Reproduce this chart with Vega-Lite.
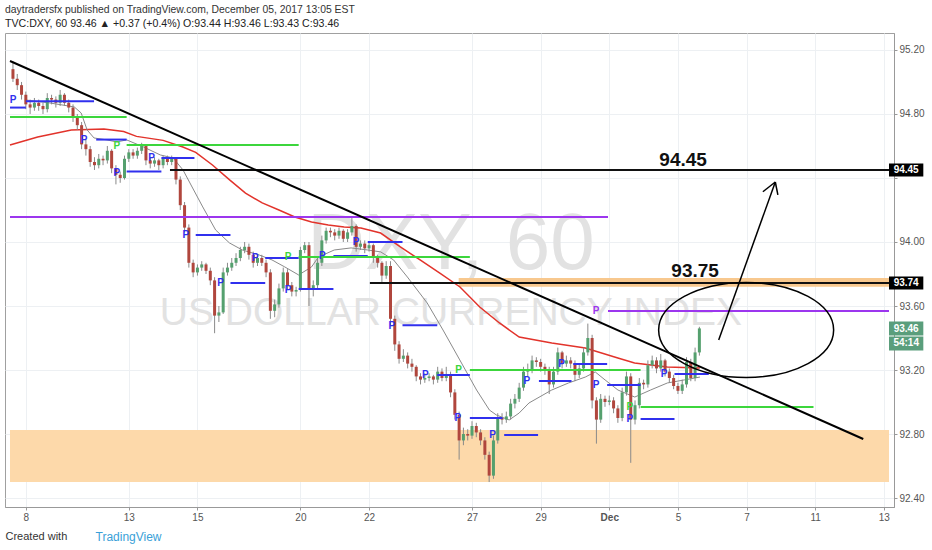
{
"$schema":"https://vega.github.io/schema/vega-lite/v6.json",
"width":889,"height":474,
"autosize":{"type":"none"},
"padding":{"left":5,"top":33,"right":38,"bottom":43},
"background":"#ffffff",
"config":{"view":{"stroke":"#a0a0a0","strokeWidth":1},"font":"Liberation Sans"},
"title":{"text":"daytradersfx published on TradingView.com, December 05, 2017 13:05 EST","subtitle":"TVC:DXY, 60 93.46 ▲ +0.37 (+0.4%) O:93.44 H:93.46 L:93.43 C:93.46","anchor":"start","frame":"group","offset":3,"font":"Liberation Sans","fontSize":10.4,"fontWeight":"normal","color":"#333333","subtitleFont":"Liberation Sans","subtitleFontSize":10.6,"subtitleFontWeight":"normal","subtitleColor":"#222222","subtitlePadding":4},
"datasets":{
"candles":[
{"i":-3,"o":95.08,"h":95.13,"l":95.00,"c":95.02},
{"i":-2,"o":95.02,"h":95.05,"l":94.95,"c":94.98},
{"i":-1,"o":94.98,"h":95.00,"l":94.89,"c":94.92},
{"i":0,"o":94.92,"h":94.94,"l":94.83,"c":94.86},
{"i":1,"o":94.86,"h":94.89,"l":94.80,"c":94.84},
{"i":2,"o":94.84,"h":94.90,"l":94.82,"c":94.87},
{"i":3,"o":94.87,"h":94.89,"l":94.82,"c":94.85},
{"i":4,"o":94.85,"h":94.87,"l":94.80,"c":94.83},
{"i":5,"o":94.83,"h":94.93,"l":94.81,"c":94.90},
{"i":6,"o":94.90,"h":94.92,"l":94.86,"c":94.89},
{"i":7,"o":94.89,"h":94.91,"l":94.84,"c":94.87},
{"i":8,"o":94.87,"h":94.95,"l":94.85,"c":94.92},
{"i":9,"o":94.92,"h":94.93,"l":94.85,"c":94.87},
{"i":10,"o":94.87,"h":94.89,"l":94.81,"c":94.84},
{"i":11,"o":94.84,"h":94.86,"l":94.75,"c":94.78},
{"i":12,"o":94.78,"h":94.80,"l":94.70,"c":94.73},
{"i":13,"o":94.73,"h":94.75,"l":94.58,"c":94.61},
{"i":14,"o":94.61,"h":94.64,"l":94.54,"c":94.58},
{"i":15,"o":94.58,"h":94.60,"l":94.47,"c":94.50},
{"i":16,"o":94.50,"h":94.53,"l":94.45,"c":94.48},
{"i":17,"o":94.48,"h":94.55,"l":94.46,"c":94.52},
{"i":18,"o":94.52,"h":94.54,"l":94.48,"c":94.51},
{"i":19,"o":94.51,"h":94.60,"l":94.49,"c":94.57},
{"i":20,"o":94.57,"h":94.58,"l":94.43,"c":94.46},
{"i":21,"o":94.46,"h":94.48,"l":94.36,"c":94.42},
{"i":22,"o":94.42,"h":94.44,"l":94.37,"c":94.40},
{"i":23,"o":94.40,"h":94.54,"l":94.39,"c":94.52},
{"i":24,"o":94.52,"h":94.58,"l":94.50,"c":94.56},
{"i":25,"o":94.56,"h":94.58,"l":94.52,"c":94.54},
{"i":26,"o":94.54,"h":94.59,"l":94.52,"c":94.57},
{"i":27,"o":94.57,"h":94.62,"l":94.55,"c":94.60},
{"i":28,"o":94.60,"h":94.61,"l":94.48,"c":94.51},
{"i":29,"o":94.51,"h":94.53,"l":94.46,"c":94.49},
{"i":30,"o":94.49,"h":94.53,"l":94.47,"c":94.51},
{"i":31,"o":94.51,"h":94.52,"l":94.45,"c":94.48},
{"i":32,"o":94.48,"h":94.54,"l":94.46,"c":94.52},
{"i":33,"o":94.52,"h":94.54,"l":94.48,"c":94.50},
{"i":34,"o":94.50,"h":94.54,"l":94.48,"c":94.52},
{"i":35,"o":94.52,"h":94.53,"l":94.36,"c":94.39},
{"i":36,"o":94.39,"h":94.41,"l":94.20,"c":94.23},
{"i":37,"o":94.23,"h":94.25,"l":94.06,"c":94.09},
{"i":38,"o":94.09,"h":94.11,"l":93.84,"c":93.87},
{"i":39,"o":93.87,"h":93.89,"l":93.78,"c":93.81},
{"i":40,"o":93.81,"h":93.86,"l":93.79,"c":93.84},
{"i":41,"o":93.84,"h":93.88,"l":93.82,"c":93.86},
{"i":42,"o":93.86,"h":93.87,"l":93.80,"c":93.82},
{"i":43,"o":93.82,"h":93.84,"l":93.73,"c":93.76},
{"i":44,"o":93.76,"h":93.78,"l":93.43,"c":93.54},
{"i":45,"o":93.54,"h":93.60,"l":93.50,"c":93.56},
{"i":46,"o":93.56,"h":93.84,"l":93.55,"c":93.81},
{"i":47,"o":93.81,"h":93.87,"l":93.79,"c":93.84},
{"i":48,"o":93.84,"h":93.90,"l":93.82,"c":93.87},
{"i":49,"o":93.87,"h":93.93,"l":93.85,"c":93.90},
{"i":50,"o":93.90,"h":93.97,"l":93.88,"c":93.95},
{"i":51,"o":93.95,"h":94.00,"l":93.93,"c":93.97},
{"i":52,"o":93.97,"h":93.99,"l":93.89,"c":93.92},
{"i":53,"o":93.92,"h":93.94,"l":93.84,"c":93.87},
{"i":54,"o":93.87,"h":93.92,"l":93.85,"c":93.90},
{"i":55,"o":93.90,"h":93.92,"l":93.85,"c":93.87},
{"i":56,"o":93.87,"h":93.89,"l":93.78,"c":93.81},
{"i":57,"o":93.81,"h":93.83,"l":93.52,"c":93.57},
{"i":58,"o":93.57,"h":93.64,"l":93.53,"c":93.61},
{"i":59,"o":93.61,"h":93.74,"l":93.59,"c":93.71},
{"i":60,"o":93.71,"h":93.84,"l":93.69,"c":93.81},
{"i":61,"o":93.81,"h":93.83,"l":93.70,"c":93.73},
{"i":62,"o":93.73,"h":93.75,"l":93.66,"c":93.69},
{"i":63,"o":93.69,"h":93.72,"l":93.66,"c":93.70},
{"i":64,"o":93.70,"h":93.97,"l":93.69,"c":93.95},
{"i":65,"o":93.95,"h":94.00,"l":93.93,"c":93.98},
{"i":66,"o":93.98,"h":94.00,"l":93.60,"c":93.70},
{"i":67,"o":93.70,"h":93.76,"l":93.66,"c":93.73},
{"i":68,"o":93.73,"h":93.90,"l":93.71,"c":93.87},
{"i":69,"o":93.87,"h":94.04,"l":93.85,"c":94.01},
{"i":70,"o":94.01,"h":94.09,"l":93.99,"c":94.07},
{"i":71,"o":94.07,"h":94.09,"l":94.03,"c":94.06},
{"i":72,"o":94.06,"h":94.08,"l":94.01,"c":94.04},
{"i":73,"o":94.04,"h":94.09,"l":94.02,"c":94.07},
{"i":74,"o":94.07,"h":94.08,"l":94.00,"c":94.02},
{"i":75,"o":94.02,"h":94.08,"l":94.00,"c":94.06},
{"i":76,"o":94.06,"h":94.15,"l":94.04,"c":94.10},
{"i":77,"o":94.10,"h":94.11,"l":93.94,"c":93.97},
{"i":78,"o":93.97,"h":94.01,"l":93.95,"c":93.99},
{"i":79,"o":93.99,"h":94.01,"l":93.93,"c":93.96},
{"i":80,"o":93.96,"h":94.00,"l":93.94,"c":93.98},
{"i":81,"o":93.98,"h":93.99,"l":93.87,"c":93.90},
{"i":82,"o":93.90,"h":93.92,"l":93.84,"c":93.87},
{"i":83,"o":93.87,"h":93.88,"l":93.75,"c":93.79},
{"i":84,"o":93.79,"h":93.88,"l":93.77,"c":93.85},
{"i":85,"o":93.85,"h":93.88,"l":93.48,"c":93.52},
{"i":86,"o":93.52,"h":93.54,"l":93.32,"c":93.36},
{"i":87,"o":93.36,"h":93.38,"l":93.24,"c":93.27},
{"i":88,"o":93.27,"h":93.33,"l":93.25,"c":93.29},
{"i":89,"o":93.29,"h":93.31,"l":93.21,"c":93.24},
{"i":90,"o":93.24,"h":93.27,"l":93.19,"c":93.22},
{"i":91,"o":93.22,"h":93.23,"l":93.13,"c":93.16},
{"i":92,"o":93.16,"h":93.18,"l":93.11,"c":93.14},
{"i":93,"o":93.14,"h":93.18,"l":93.12,"c":93.15},
{"i":94,"o":93.15,"h":93.18,"l":93.13,"c":93.16},
{"i":95,"o":93.16,"h":93.17,"l":93.11,"c":93.14},
{"i":96,"o":93.14,"h":93.22,"l":93.12,"c":93.19},
{"i":97,"o":93.19,"h":93.21,"l":93.13,"c":93.15},
{"i":98,"o":93.15,"h":93.22,"l":93.13,"c":93.17},
{"i":99,"o":93.17,"h":93.19,"l":93.03,"c":93.06},
{"i":100,"o":93.06,"h":93.08,"l":92.89,"c":92.92},
{"i":101,"o":92.92,"h":92.94,"l":92.64,"c":92.76},
{"i":102,"o":92.76,"h":92.84,"l":92.73,"c":92.80},
{"i":103,"o":92.80,"h":92.83,"l":92.76,"c":92.79},
{"i":104,"o":92.79,"h":92.88,"l":92.77,"c":92.85},
{"i":105,"o":92.85,"h":92.87,"l":92.78,"c":92.81},
{"i":106,"o":92.81,"h":92.83,"l":92.73,"c":92.76},
{"i":107,"o":92.76,"h":92.78,"l":92.64,"c":92.67},
{"i":108,"o":92.67,"h":92.69,"l":92.50,"c":92.54},
{"i":109,"o":92.54,"h":92.79,"l":92.52,"c":92.76},
{"i":110,"o":92.76,"h":92.93,"l":92.74,"c":92.90},
{"i":111,"o":92.90,"h":92.93,"l":92.86,"c":92.89},
{"i":112,"o":92.89,"h":92.94,"l":92.87,"c":92.91},
{"i":113,"o":92.91,"h":93.02,"l":92.89,"c":92.99},
{"i":114,"o":92.99,"h":93.05,"l":92.96,"c":93.02},
{"i":115,"o":93.02,"h":93.12,"l":93.00,"c":93.09},
{"i":116,"o":93.09,"h":93.22,"l":93.07,"c":93.19},
{"i":117,"o":93.19,"h":93.24,"l":93.16,"c":93.20},
{"i":118,"o":93.20,"h":93.29,"l":93.18,"c":93.26},
{"i":119,"o":93.26,"h":93.28,"l":93.22,"c":93.25},
{"i":120,"o":93.25,"h":93.27,"l":93.19,"c":93.22},
{"i":121,"o":93.22,"h":93.24,"l":93.17,"c":93.20},
{"i":122,"o":93.20,"h":93.22,"l":93.05,"c":93.11},
{"i":123,"o":93.11,"h":93.22,"l":93.09,"c":93.19},
{"i":124,"o":93.19,"h":93.34,"l":93.17,"c":93.31},
{"i":125,"o":93.31,"h":93.32,"l":93.21,"c":93.24},
{"i":126,"o":93.24,"h":93.29,"l":93.22,"c":93.26},
{"i":127,"o":93.26,"h":93.28,"l":93.21,"c":93.24},
{"i":128,"o":93.24,"h":93.26,"l":93.13,"c":93.17},
{"i":129,"o":93.17,"h":93.24,"l":93.15,"c":93.21},
{"i":130,"o":93.21,"h":93.34,"l":93.19,"c":93.31},
{"i":131,"o":93.31,"h":93.49,"l":93.29,"c":93.40},
{"i":132,"o":93.40,"h":93.42,"l":92.96,"c":93.01},
{"i":133,"o":93.01,"h":93.03,"l":92.74,"c":92.89},
{"i":134,"o":92.89,"h":93.05,"l":92.87,"c":93.02},
{"i":135,"o":93.02,"h":93.04,"l":92.97,"c":93.00},
{"i":136,"o":93.00,"h":93.04,"l":92.98,"c":93.01},
{"i":137,"o":93.01,"h":93.03,"l":92.93,"c":92.96},
{"i":138,"o":92.96,"h":92.98,"l":92.87,"c":92.90},
{"i":139,"o":92.90,"h":93.09,"l":92.88,"c":93.06},
{"i":140,"o":93.06,"h":93.19,"l":93.04,"c":93.16},
{"i":141,"o":93.16,"h":93.18,"l":92.62,"c":92.89},
{"i":142,"o":92.89,"h":93.01,"l":92.86,"c":92.98},
{"i":143,"o":92.98,"h":93.15,"l":92.96,"c":93.12},
{"i":144,"o":93.12,"h":93.14,"l":93.08,"c":93.11},
{"i":145,"o":93.11,"h":93.26,"l":93.09,"c":93.23},
{"i":146,"o":93.23,"h":93.29,"l":93.21,"c":93.26},
{"i":147,"o":93.26,"h":93.28,"l":93.18,"c":93.21},
{"i":148,"o":93.21,"h":93.30,"l":93.19,"c":93.26},
{"i":149,"o":93.26,"h":93.27,"l":93.16,"c":93.19},
{"i":150,"o":93.19,"h":93.21,"l":93.12,"c":93.15},
{"i":151,"o":93.15,"h":93.17,"l":93.08,"c":93.10},
{"i":152,"o":93.10,"h":93.12,"l":93.05,"c":93.07},
{"i":153,"o":93.07,"h":93.14,"l":93.05,"c":93.11},
{"i":154,"o":93.11,"h":93.28,"l":93.09,"c":93.25},
{"i":155,"o":93.25,"h":93.27,"l":93.13,"c":93.15},
{"i":156,"o":93.15,"h":93.34,"l":93.13,"c":93.31},
{"i":157,"o":93.31,"h":93.47,"l":93.29,"c":93.46}
],
"ma100":[
{"i":-3.69,"p":94.606},{"i":2.76,"p":94.656},{"i":10.6,"p":94.70},{"i":18.2,"p":94.706},{"i":22.8,"p":94.69},{"i":25.8,"p":94.66},{"i":32.0,"p":94.635},{"i":36.6,"p":94.594},{"i":39.6,"p":94.56},{"i":43.5,"p":94.481},{"i":47.5,"p":94.388},{"i":51.2,"p":94.306},{"i":55.1,"p":94.244},{"i":59.0,"p":94.20},{"i":62.7,"p":94.156},{"i":66.6,"p":94.125},{"i":70.5,"p":94.106},{"i":74.2,"p":94.094},{"i":78.1,"p":94.088},{"i":82.7,"p":94.056},{"i":87.3,"p":93.969},{"i":91.9,"p":93.888},{"i":96.5,"p":93.806},{"i":101.2,"p":93.719},{"i":105.8,"p":93.594},{"i":110.4,"p":93.494},{"i":115.0,"p":93.406},{"i":122.6,"p":93.369},{"i":130.4,"p":93.338},{"i":138.0,"p":93.275},{"i":141.9,"p":93.244},{"i":149.5,"p":93.219},{"i":157.1,"p":93.213}
],
"ma20":[
{"i":-0.23,"p":94.888},{"i":5.53,"p":94.869},{"i":11.29,"p":94.844},{"i":12.9,"p":94.806},{"i":14.29,"p":94.70},{"i":15.9,"p":94.65},{"i":18.89,"p":94.638},{"i":21.2,"p":94.625},{"i":23.5,"p":94.638},{"i":27.42,"p":94.594},{"i":31.34,"p":94.544},{"i":34.33,"p":94.525},{"i":36.64,"p":94.45},{"i":38.25,"p":94.369},{"i":41.24,"p":94.219},{"i":44.24,"p":94.075},{"i":47.47,"p":93.994},{"i":50.46,"p":93.95},{"i":54.38,"p":93.919},{"i":57.37,"p":93.888},{"i":60.37,"p":93.844},{"i":63.59,"p":93.794},{"i":66.59,"p":93.844},{"i":68.2,"p":93.906},{"i":71.89,"p":93.95},{"i":75.81,"p":93.963},{"i":79.72,"p":93.95},{"i":82.72,"p":93.938},{"i":85.71,"p":93.888},{"i":88.94,"p":93.781},{"i":93.55,"p":93.619},{"i":97.24,"p":93.45},{"i":101.15,"p":93.263},{"i":105.07,"p":93.075},{"i":108.06,"p":92.95},{"i":109.68,"p":92.919},{"i":112.67,"p":92.888},{"i":114.98,"p":92.931},{"i":117.28,"p":92.994},{"i":122.58,"p":93.075},{"i":126.5,"p":93.119},{"i":130.41,"p":93.156},{"i":132.72,"p":93.188},{"i":135.02,"p":93.138},{"i":138.02,"p":93.075},{"i":141.94,"p":93.031},{"i":145.62,"p":93.075},{"i":149.54,"p":93.119},{"i":153.46,"p":93.138},{"i":157.14,"p":93.156}
],
"segments":[
{"i1":-3.69,"i2":0,"p":94.84,"k":"blue"},
{"i1":0,"i2":15.9,"p":94.88,"k":"blue"},
{"i1":16.4,"i2":23.5,"p":94.64,"k":"blue"},
{"i1":23.5,"i2":31.6,"p":94.44,"k":"blue"},
{"i1":31.6,"i2":39.3,"p":94.525,"k":"blue"},
{"i1":39.6,"i2":47.7,"p":94.044,"k":"blue"},
{"i1":47.7,"i2":55.8,"p":93.744,"k":"blue"},
{"i1":55.8,"i2":63.6,"p":93.9,"k":"blue"},
{"i1":63.6,"i2":71.7,"p":93.706,"k":"blue"},
{"i1":71.7,"i2":79.7,"p":93.913,"k":"blue"},
{"i1":79.7,"i2":87.8,"p":94.0,"k":"blue"},
{"i1":87.8,"i2":95.9,"p":93.48,"k":"blue"},
{"i1":95.9,"i2":103.5,"p":93.169,"k":"blue"},
{"i1":103.5,"i2":111.1,"p":92.9,"k":"blue"},
{"i1":111.5,"i2":119.4,"p":92.794,"k":"blue"},
{"i1":119.6,"i2":127.2,"p":93.131,"k":"blue"},
{"i1":127.6,"i2":135.5,"p":93.238,"k":"blue"},
{"i1":135.5,"i2":143.3,"p":93.106,"k":"blue"},
{"i1":143.3,"i2":151.2,"p":92.894,"k":"blue"},
{"i1":151.2,"i2":159.2,"p":93.175,"k":"blue"},
{"i1":-3.69,"i2":23.5,"p":94.781,"k":"green"},
{"i1":23.5,"i2":63.6,"p":94.606,"k":"green"},
{"i1":63.6,"i2":103.5,"p":93.906,"k":"green"},
{"i1":103.5,"i2":143.3,"p":93.2,"k":"green"},
{"i1":143.3,"i2":183.6,"p":92.969,"k":"green"},
{"i1":-3.69,"i2":135.7,"p":94.156,"k":"purple"},
{"i1":135.7,"i2":201.2,"p":93.569,"k":"purple"},
{"i1":33.6,"i2":201.2,"p":94.45,"k":"black"},
{"i1":80.2,"i2":201.2,"p":93.744,"k":"black"}
],
"plabels":[
{"i":-3.0,"p":94.89,"k":"blue"},{"i":13.6,"p":94.64,"k":"blue"},{"i":21.2,"p":94.43,"k":"blue"},{"i":29.3,"p":94.525,"k":"blue"},{"i":37.3,"p":94.044,"k":"blue"},{"i":45.4,"p":93.744,"k":"blue"},{"i":53.5,"p":93.9,"k":"blue"},{"i":61.1,"p":93.7,"k":"blue"},{"i":69.1,"p":93.91,"k":"blue"},{"i":77.0,"p":94.0,"k":"blue"},{"i":85.3,"p":93.475,"k":"blue"},{"i":93.1,"p":93.17,"k":"blue"},{"i":100.7,"p":92.9,"k":"blue"},{"i":108.8,"p":92.794,"k":"blue"},{"i":116.8,"p":93.13,"k":"blue"},{"i":124.9,"p":93.24,"k":"blue"},{"i":132.9,"p":93.106,"k":"blue"},{"i":140.8,"p":92.894,"k":"blue"},{"i":148.8,"p":93.175,"k":"blue"},
{"i":21.2,"p":94.6,"k":"green"},{"i":61.1,"p":93.906,"k":"green"},{"i":100.9,"p":93.2,"k":"green"},{"i":140.8,"p":92.969,"k":"green"},
{"i":132.9,"p":93.569,"k":"purple"}
],
"bands":[
{"i1":-3.69,"i2":201.2,"lo":92.50,"hi":92.825,"k":"band1"},
{"i1":100.9,"i2":201.2,"lo":93.72,"hi":93.775,"k":"band2"}
],
"arrow":[
{"i1":161.5,"p1":93.388,"i2":174.7,"p2":94.375},
{"i1":171.8,"p1":94.314,"i2":174.7,"p2":94.375},
{"i1":175.3,"p1":94.294,"i2":174.7,"p2":94.375}
],
"notes":[
{"t":"94.45","i":153.2,"p":94.51},
{"t":"93.75","i":156.0,"p":93.82}
],
"tags":[
{"t":"94.45","p":94.45,"hi":94.491,"lo":94.409,"k":"tagk"},
{"t":"93.74","p":93.744,"hi":93.785,"lo":93.703,"k":"tagk"},
{"t":"93.46","p":93.459,"hi":93.503,"lo":93.415,"k":"tagg"},
{"t":"54:14","p":93.366,"hi":93.409,"lo":93.322,"k":"tagg"}
],
"marks":[{"name":"watermark"}]
},
"layer":[
{"data":{"name":"marks"},"mark":{"type":"text","text":"DXY, 60","fontSize":80,"color":"#e2e2e2","font":"Liberation Sans","baseline":"middle","align":"center"},
 "encoding":{"x":{"datum":99.1,"type":"quantitative"},"y":{"datum":93.981,"type":"quantitative"}}},
{"data":{"name":"marks"},"mark":{"type":"text","text":"US DOLLAR CURRENCY INDEX","fontSize":39,"color":"#e2e2e2","font":"Liberation Sans","baseline":"middle","align":"center"},
 "encoding":{"x":{"datum":99.1,"type":"quantitative"},"y":{"datum":93.556,"type":"quantitative"}}},
{"data":{"name":"bands"},"mark":{"type":"rect"},
 "encoding":{"x":{"field":"i1","type":"quantitative"},"x2":{"field":"i2"},"y":{"field":"lo","type":"quantitative"},"y2":{"field":"hi"},
  "color":{"field":"k","type":"nominal","legend":null,"scale":{"domain":["blue","green","purple","black","band1","band2","tagk","tagg"],"range":["#3030ee","#3cd63c","#9c36ee","#111111","#fdd9aa","#f8c88e","#000000","#5a9e7c"]}}}},
{"data":{"name":"ma100"},"mark":{"type":"line","color":"#e2332b","strokeWidth":1.5},
 "encoding":{"x":{"field":"i","type":"quantitative"},"y":{"field":"p","type":"quantitative"}}},
{"data":{"name":"ma20"},"mark":{"type":"line","color":"#8a8a8a","strokeWidth":1},
 "encoding":{"x":{"field":"i","type":"quantitative"},"y":{"field":"p","type":"quantitative"}}},
{"data":{"name":"candles"},"mark":{"type":"rule","color":"#8a8a8a","strokeWidth":1},
 "encoding":{
  "x":{"field":"i","type":"quantitative","scale":{"domain":[-3.69,201.2],"nice":false,"zero":false},
   "axis":{"values":[0,24,40,64,80,104,120,136,152,168,184,200],
    "labelExpr":"datum.value==0?'8':datum.value==24?'13':datum.value==40?'15':datum.value==64?'20':datum.value==80?'22':datum.value==104?'27':datum.value==120?'29':datum.value==136?'Dec':datum.value==152?'5':datum.value==168?'7':datum.value==184?'11':'13'",
    "labelFontWeight":{"condition":{"test":"datum.value==136","value":"bold"},"value":"normal"},
    "labelFontSize":10,"labelColor":"#555555","labelPadding":2,"labelFlush":false,"labelOverlap":false,
    "tickSize":3,"tickColor":"#999999","domainColor":"#999999","grid":true,"gridColor":"#edf0f3",
    "title":"Created with","titleAnchor":"start","titleAlign":"left","titleX":0,"titleY":29,"titleBaseline":"middle","titleFontSize":11,"titleFontWeight":"normal","titleColor":"#333333"}},
  "y":{"field":"l","type":"quantitative","scale":{"domain":[92.344,95.306],"nice":false,"zero":false},
   "axis":{"orient":"right","values":[92.4,92.6,92.8,93.0,93.2,93.4,93.6,93.8,94.0,94.2,94.4,94.6,94.8,95.0,95.2],
    "labelExpr":"(abs(datum.value-94.4)<0.001 || abs(datum.value-93.4)<0.001) ? '' : format(datum.value, '.2f')",
    "labelFontSize":10,"labelColor":"#555555","labelPadding":2,"labelOverlap":false,"labelFlush":false,
    "tickSize":3,"tickColor":"#999999","domainColor":"#999999","grid":true,"gridColor":"#edf0f3",
    "title":"TradingView","titleAngle":0,"titleX":-799,"titleY":503,"titleAlign":"left","titleBaseline":"middle","titleColor":"#3a9fd8","titleFontSize":12,"titleFontWeight":"normal"}},
  "y2":{"field":"h"}}},
{"data":{"name":"candles"},"mark":{"type":"bar","size":3},
 "encoding":{"x":{"field":"i","type":"quantitative"},"y":{"field":"o","type":"quantitative"},"y2":{"field":"c"},
  "color":{"condition":{"test":"datum.c >= datum.o","value":"#55a06e"},"value":"#b0463d"}}},
{"data":{"name":"segments"},"mark":{"type":"rule","strokeWidth":2},
 "encoding":{"x":{"field":"i1","type":"quantitative"},"x2":{"field":"i2"},"y":{"field":"p","type":"quantitative"},
  "color":{"field":"k","type":"nominal","legend":null}}},
{"data":{"values":[{"i1":-3.69,"p1":95.131,"i2":195.2,"p2":92.769}]},"mark":{"type":"rule","color":"#000000","strokeWidth":2},
 "encoding":{"x":{"field":"i1","type":"quantitative"},"y":{"field":"p1","type":"quantitative"},"x2":{"field":"i2"},"y2":{"field":"p2"}}},
{"data":{"name":"arrow"},"mark":{"type":"rule","color":"#000000","strokeWidth":1.5},
 "encoding":{"x":{"field":"i1","type":"quantitative"},"y":{"field":"p1","type":"quantitative"},"x2":{"field":"i2"},"y2":{"field":"p2"}}},
{"data":{"name":"marks"},"mark":{"type":"point","shape":"M-1,0A1,0.543,0,1,1,1,0A1,0.543,0,1,1,-1,0Z","size":30625,"filled":false,"stroke":"#000000","strokeWidth":1.5,"opacity":1},
 "encoding":{"x":{"datum":167.9,"type":"quantitative"},"y":{"datum":93.45,"type":"quantitative"}}},
{"data":{"name":"plabels"},"mark":{"type":"text","text":"P","fontSize":10,"fontWeight":"bold","baseline":"middle","align":"center"},
 "encoding":{"x":{"field":"i","type":"quantitative"},"y":{"field":"p","type":"quantitative"},
  "color":{"field":"k","type":"nominal","legend":null}}},
{"data":{"name":"notes"},"mark":{"type":"text","fontSize":19,"fontWeight":"bold","color":"#111111","baseline":"middle","align":"center","font":"Liberation Sans"},
 "encoding":{"x":{"field":"i","type":"quantitative"},"y":{"field":"p","type":"quantitative"},"text":{"field":"t"}}},
{"data":{"name":"tags"},"mark":{"type":"rect"},
 "encoding":{"x":{"datum":201.2,"type":"quantitative"},"x2":{"datum":209.2},"y":{"field":"lo","type":"quantitative"},"y2":{"field":"hi"},
  "color":{"field":"k","type":"nominal","legend":null}}},
{"data":{"name":"tags"},"mark":{"type":"text","fontSize":10,"fontWeight":"bold","color":"#ffffff","baseline":"middle","align":"center"},
 "encoding":{"x":{"datum":205.2,"type":"quantitative"},"y":{"field":"p","type":"quantitative"},"text":{"field":"t"}}}
]
}
